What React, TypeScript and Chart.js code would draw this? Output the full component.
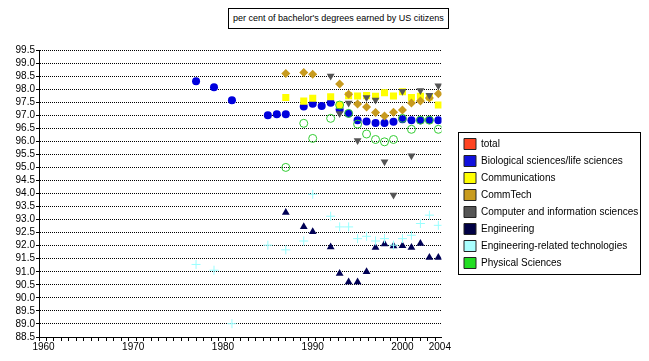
import React, { useEffect, useRef } from "react";
import { Chart, registerables } from "chart.js";

Chart.register(...registerables);

const titleText = "per cent of bachelor's degrees earned by US citizens";

const seriesNames = [
  "total",
  "Biological sciences/life sciences",
  "Communications",
  "CommTech",
  "Computer and information sciences",
  "Engineering",
  "Engineering-related technologies",
  "Physical Sciences",
];

const totalYears: number[] = [];
const totalValues: number[] = [];

const bioYears = [1977, 1979, 1981, 1985, 1986, 1987, 1989, 1990, 1991, 1992, 1993, 1994, 1995, 1996, 1997, 1998, 1999, 2000, 2001, 2002, 2003, 2004];
const bioValues = [98.3, 98.07, 97.57, 97.0, 97.04, 97.04, 97.33, 97.44, 97.35, 97.48, 97.22, 97.07, 96.81, 96.76, 96.7, 96.7, 96.75, 96.85, 96.81, 96.81, 96.82, 96.81];

const commYears = [1987, 1989, 1990, 1992, 1993, 1994, 1995, 1996, 1997, 1998, 1999, 2000, 2001, 2002, 2003, 2004];
const commValues = [97.68, 97.54, 97.65, 97.71, 97.39, 97.75, 97.74, 97.75, 97.73, 97.86, 97.74, 97.9, 97.68, 97.73, 97.7, 97.39];

const commTechYears = [1987, 1989, 1990, 1993, 1994, 1995, 1996, 1997, 1998, 1999, 2000, 2001, 2002, 2003, 2004];
const commTechValues = [98.6, 98.64, 98.57, 98.2, 97.8, 97.43, 97.32, 97.1, 96.97, 97.11, 97.2, 97.47, 97.55, 97.66, 97.82];

const compYears = [1992, 1993, 1994, 1995, 1996, 1997, 1998, 1999, 2000, 2001, 2002, 2003, 2004];
const compValues = [98.5, 97.07, 97.47, 96.03, 97.68, 97.58, 95.22, 93.94, 97.92, 95.45, 97.95, 97.77, 98.13];

const engYears = [1987, 1989, 1990, 1992, 1993, 1994, 1995, 1996, 1997, 1998, 1999, 2000, 2001, 2002, 2003, 2004];
const engValues = [93.27, 92.73, 92.53, 91.95, 90.93, 90.61, 90.61, 91.0, 91.93, 92.06, 91.99, 92.0, 91.93, 92.08, 91.55, 91.55];

const engTechYears = [1977, 1979, 1981, 1985, 1987, 1989, 1990, 1992, 1993, 1994, 1995, 1996, 1997, 1998, 1999, 2000, 2001, 2002, 2003, 2004];
const engTechValues = [91.28, 91.06, 89.01, 92.02, 91.84, 92.18, 93.97, 93.13, 92.72, 92.72, 92.27, 92.36, 92.18, 92.27, 92.02, 92.27, 92.4, 92.85, 93.17, 92.78];

const physYears = [1987, 1989, 1990, 1992, 1993, 1994, 1995, 1996, 1997, 1998, 1999, 2000, 2001, 2002, 2003, 2004];
const physValues = [95.0, 96.69, 96.11, 96.88, 97.39, 97.07, 96.66, 96.28, 96.07, 95.98, 96.07, 96.88, 96.46, 96.81, 96.81, 96.46];

const xTickYears = [1960, 1970, 1980, 1990, 2000, 2004];
const xTickLabels = ["1960", "1970", "1980", "1990", "2000", "2004"];

const legendColors = ["#FF4422", "#1010DD", "#FFFF00", "#C89B1E", "#555555", "#000044", "#AAFFFF", "#22DD22"];

const FONT = "'Liberation Sans', Arial, sans-serif";
const X_MIN = 1959.5;
const X_MAX = 2004.35;
const X_MINOR_STEP = 10 / 12;
const Y_MIN = 88.5;
const Y_MAX = 99.5;
const Y_STEP = 0.5;
const CANVAS_W = 633;
const CANVAS_H = 349;
const LEGEND_WIDTH = 183;

function pts(xs: number[], ys: number[]) {
  return xs.map((x, i) => ({ x, y: ys[i] }));
}

const legendBorderPlugin = {
  id: "legendBorder",
  afterInit(chart: any) {
    const lg = chart.legend;
    if (lg && !lg.__patched) {
      const orig = lg.fit.bind(lg);
      lg.fit = function () {
        orig();
        this.width = LEGEND_WIDTH;
      };
      lg.__patched = true;
    }
  },
  afterDraw(chart: any) {
    const lg = chart.legend;
    const hb = lg && lg.legendHitBoxes;
    if (!hb || !hb.length) return;
    const ctx = chart.ctx;
    const left = Math.min(...hb.map((h: any) => h.left)) - 6;
    const top = hb[0].top - 7;
    const last = hb[hb.length - 1];
    const bottom = last.top + last.height + 5;
    const right = chart.width - 1;
    ctx.save();
    ctx.strokeStyle = "#000";
    ctx.lineWidth = 1;
    ctx.strokeRect(Math.round(left) + 0.5, Math.round(top) + 0.5, Math.round(right - left), Math.round(bottom - top));
    ctx.restore();
  },
};

export default function App() {
  const canvasRef = useRef<HTMLCanvasElement | null>(null);

  useEffect(() => {
    if (!canvasRef.current) return;
    const n = seriesNames.length;
    const datasets: any[] = [
      {
        label: seriesNames[0],
        data: pts(totalYears, totalValues),
        pointStyle: "rect",
        pointRadius: 5,
        backgroundColor: legendColors[0],
        borderColor: legendColors[0],
        borderWidth: 0,
      },
      {
        label: seriesNames[1],
        data: pts(bioYears, bioValues),
        pointStyle: "circle",
        pointRadius: 4,
        backgroundColor: "#0000DD",
        borderColor: "#0000DD",
        borderWidth: 0,
      },
      {
        label: seriesNames[2],
        data: pts(commYears, commValues),
        pointStyle: "rect",
        pointRadius: 5,
        backgroundColor: "#FFFF00",
        borderColor: "#FFFF00",
        borderWidth: 0,
      },
      {
        label: seriesNames[3],
        data: pts(commTechYears, commTechValues),
        pointStyle: "rectRot",
        pointRadius: 4.5,
        backgroundColor: "#C89B1E",
        borderColor: "#C89B1E",
        borderWidth: 0,
      },
      {
        label: seriesNames[4],
        data: pts(compYears, compValues),
        pointStyle: "triangle",
        rotation: 180,
        pointRadius: 4.5,
        backgroundColor: "#555555",
        borderColor: "#555555",
        borderWidth: 0,
      },
      {
        label: seriesNames[5],
        data: pts(engYears, engValues),
        pointStyle: "triangle",
        pointRadius: 4.5,
        backgroundColor: "#000055",
        borderColor: "#000055",
        borderWidth: 0,
      },
      {
        label: seriesNames[6],
        data: pts(engTechYears, engTechValues),
        pointStyle: "cross",
        pointRadius: 4.5,
        backgroundColor: "#99FFFF",
        borderColor: "#99FFFF",
        borderWidth: 1,
      },
      {
        label: seriesNames[7],
        data: pts(physYears, physValues),
        pointStyle: "circle",
        pointRadius: 4,
        backgroundColor: "rgba(0,0,0,0)",
        borderColor: "#33CC33",
        borderWidth: 1,
      },
    ].map((d, i) => ({ ...d, order: n - i, showLine: false, pointHoverRadius: d.pointRadius }));

    const chart = new Chart(canvasRef.current, {
      type: "scatter",
      data: { datasets },
      plugins: [legendBorderPlugin],
      options: {
        animation: false,
        responsive: false,
        events: [],
        layout: { padding: { top: 42, left: 0, right: 0, bottom: 0 } },
        scales: {
          x: {
            type: "linear",
            min: X_MIN,
            max: X_MAX,
            afterBuildTicks: (scale: any) => {
              const ticks: any[] = [];
              for (let k = 0; X_MIN + k * X_MINOR_STEP <= X_MAX + 1e-9; k++) {
                ticks.push({ value: X_MIN + k * X_MINOR_STEP });
              }
              scale.ticks = ticks;
            },
            afterFit: (scale: any) => {
              scale.height = 20;
            },
            ticks: {
              autoSkip: false,
              maxRotation: 0,
              minRotation: 0,
              padding: 0,
              labelOffset: 4.5,
              color: "#000",
              font: { family: FONT, size: 10 },
              callback: (_v: any, index: number) => {
                for (let j = 0; j < xTickYears.length; j++) {
                  if (Math.floor((xTickYears[j] - X_MIN) / X_MINOR_STEP) === index) return xTickLabels[j];
                }
                return "";
              },
            },
            grid: {
              display: true,
              drawOnChartArea: false,
              drawTicks: true,
              tickLength: 4,
              color: "#000",
              tickColor: "#000",
            },
            border: { display: true, color: "#000", width: 1 },
          },
          y: {
            type: "linear",
            position: "left",
            min: Y_MIN,
            max: Y_MAX,
            afterFit: (scale: any) => {
              scale.width = 31;
            },
            ticks: {
              stepSize: Y_STEP,
              autoSkip: false,
              padding: 1,
              color: "#000",
              font: { family: FONT, size: 10 },
            },
            grid: {
              display: true,
              drawOnChartArea: true,
              drawTicks: true,
              tickLength: 3,
              color: "#000",
              tickColor: "#000",
              lineWidth: 1,
            },
            border: { display: true, color: "#000", width: 1, dash: [1, 1] },
          },
          y2: {
            type: "linear",
            position: "right",
            display: true,
            afterFit: (scale: any) => {
              scale.width = 16.5;
            },
            ticks: { display: false },
            grid: { display: false },
            border: { display: false },
          },
        },
        plugins: {
          title: { display: false },
          tooltip: { enabled: false },
          legend: {
            display: true,
            position: "right",
            align: "center",
            onClick: () => {},
            labels: {
              boxWidth: 12,
              boxHeight: 11,
              padding: 6,
              color: "#000",
              font: { family: FONT, size: 10 },
              generateLabels: (c: any) =>
                c.data.datasets.map((ds: any, i: number) => ({
                  text: ds.label,
                  fillStyle: legendColors[i],
                  strokeStyle: "#222",
                  lineWidth: 1,
                  hidden: false,
                  datasetIndex: i,
                  fontColor: "#000",
                })),
            },
          },
        },
      } as any,
    });
    return () => chart.destroy();
  }, []);

  return (
    <div style={{ position: "relative", width: CANVAS_W, height: CANVAS_H }}>
      <canvas ref={canvasRef} width={CANVAS_W} height={CANVAS_H} style={{ display: "block" }} />
      <div
        style={{
          position: "absolute",
          left: 220,
          top: 0,
          height: 19,
          lineHeight: "19px",
          padding: "0 4px",
          border: "1px solid #000",
          fontFamily: FONT,
          fontSize: 9,
          color: "#000",
          whiteSpace: "nowrap",
          background: "#fff",
        }}
      >
        {titleText}
      </div>
    </div>
  );
}
